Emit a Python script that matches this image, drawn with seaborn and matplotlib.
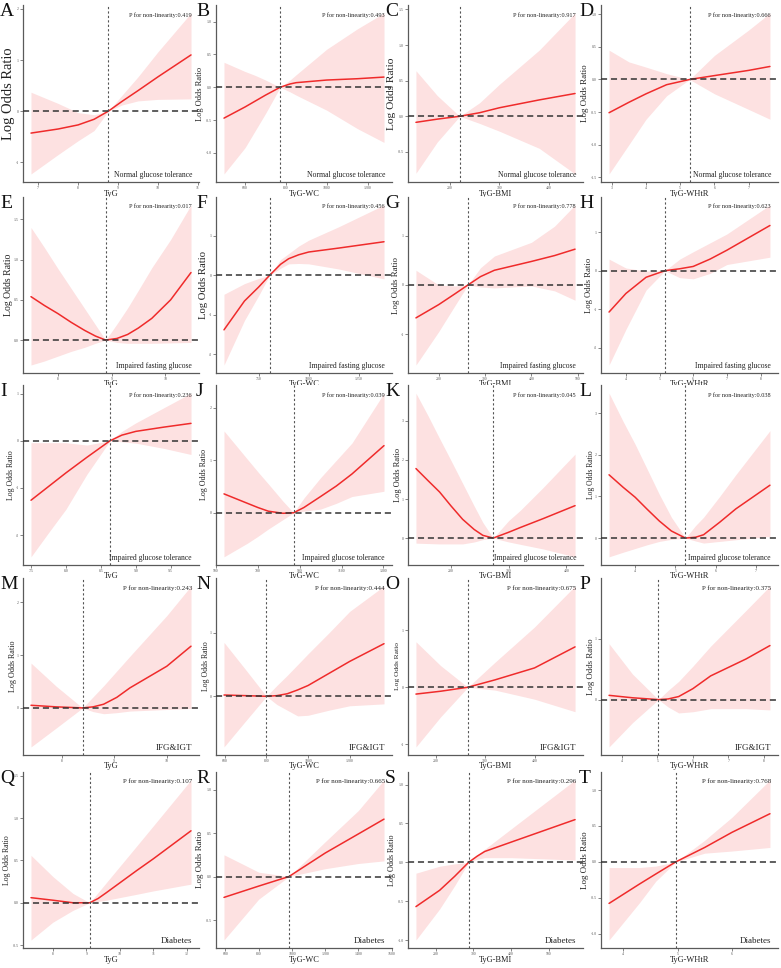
import matplotlib
matplotlib.use("Agg")
import matplotlib.pyplot as plt
import seaborn as sns

# -----------------------------------------
# Panel text
# -----------------------------------------

letters = list("ABCDEFGHIJKLMNOPQRST")
xlabels = ["TyG", "TyG-WC", "TyG-BMI", "TyG-WHtR"]
groups = ["Normal glucose tolerance", "Impaired fasting glucose",
          "Impaired glucose tolerance", "IFG&IGT", "Diabetes"]
p_values = ["0.419", "0.493", "0.917", "0.666",
            "0.017", "0.456", "0.778", "0.623",
            "0.236", "0.039", "0.045", "0.038",
            "0.243", "0.444", "0.675", "0.375",
            "0.107", "0.665", "0.296", "0.768"]

# reference value (vertical dotted line)
refs = [8.76, 772, 220, 5.27,
        8.89, 805, 263, 5.16,
        8.63, 871, 273, 5.25,
        8.4, 800, 265, 5.03,
        9.1, 982, 287, 4.97]

# -----------------------------------------
# Spline curves
# -----------------------------------------

# Row 1 - Normal glucose tolerance
a_x = [6.82, 7.5, 8.0, 8.4, 8.76, 9.1, 9.5, 10.0, 10.83]
a_y = [-0.43, -0.35, -0.27, -0.16, 0.0, 0.19, 0.40, 0.67, 1.10]
a_lo = [-1.23, -0.85, -0.58, -0.38, 0.0, 0.12, 0.20, 0.23, 0.24]
a_hi = [0.37, 0.15, -0.03, -0.07, 0.0, 0.31, 0.67, 1.16, 1.92]

b_x = [497, 600, 650, 700, 772, 820, 850, 1000, 1150, 1280]
b_y = [-0.47, -0.30, -0.21, -0.12, 0.0, 0.05, 0.07, 0.11, 0.13, 0.155]
b_lo = [-1.32, -0.92, -0.66, -0.40, 0.0, -0.07, -0.12, -0.35, -0.63, -0.84]
b_hi = [0.38, 0.24, 0.18, 0.11, 0.0, 0.11, 0.19, 0.58, 0.89, 1.13]

c_x = [132, 175, 220, 260, 300, 380, 452]
c_y = [-0.085, -0.04, 0.0, 0.05, 0.12, 0.23, 0.32]
c_lo = [-0.80, -0.36, 0.0, -0.10, -0.21, -0.45, -0.81]
c_hi = [0.64, 0.29, 0.0, 0.19, 0.45, 0.93, 1.45]

d_x = [2.92, 3.5, 4.0, 4.6, 5.27, 6.0, 7.0, 7.62]
d_y = [-0.51, -0.35, -0.22, -0.08, 0.0, 0.06, 0.14, 0.20]
d_lo = [-1.45, -1.0, -0.61, -0.25, 0.0, -0.22, -0.46, -0.61]
d_hi = [0.45, 0.27, 0.19, 0.09, 0.0, 0.37, 0.76, 1.02]

# Row 2 - Impaired fasting glucose
e_x = [7.5, 7.75, 8.0, 8.25, 8.5, 8.7, 8.89, 9.1, 9.3, 9.5, 9.75, 10.1, 10.48]
e_y = [0.54, 0.43, 0.33, 0.22, 0.12, 0.05, 0.0, 0.02, 0.07, 0.15, 0.27, 0.50, 0.84]
e_lo = [-0.31, -0.26, -0.20, -0.14, -0.09, -0.04, 0.0, -0.03, -0.04, -0.04,
        -0.04, -0.035, -0.03]
e_hi = [1.40, 1.15, 0.89, 0.64, 0.39, 0.19, 0.0, 0.20, 0.40, 0.62, 0.90, 1.25, 1.68]

f_x = [578, 680, 750, 805, 860, 900, 950, 1000, 1150, 1375]
f_y = [-1.38, -0.65, -0.30, 0.0, 0.28, 0.42, 0.52, 0.59, 0.69, 0.85]
f_lo = [-2.27, -1.14, -0.52, 0.0, 0.18, 0.29, 0.30, 0.29, 0.16, -0.09]
f_hi = [-0.48, -0.21, -0.08, 0.0, 0.40, 0.55, 0.74, 0.89, 1.23, 1.78]

g_x = [151, 200, 235, 263, 290, 320, 400, 450, 494]
g_y = [-0.67, -0.40, -0.18, 0.0, 0.17, 0.30, 0.48, 0.60, 0.73]
g_lo = [-1.63, -0.95, -0.42, 0.0, -0.04, -0.06, -0.02, -0.12, -0.31]
g_hi = [0.30, 0.0, -0.02, 0.0, 0.35, 0.59, 0.87, 1.20, 1.63]

h_x = [3.5, 4.0, 4.6, 5.16, 5.6, 6.0, 6.5, 7.0, 8.28]
h_y = [-1.07, -0.59, -0.17, 0.0, 0.05, 0.11, 0.30, 0.53, 1.17]
h_lo = [-2.44, -1.52, -0.50, 0.0, -0.18, -0.21, -0.07, 0.16, 0.35]
h_hi = [0.30, 0.07, -0.01, 0.0, 0.30, 0.49, 0.72, 0.95, 1.70]

# Row 3 - Impaired glucose tolerance
i_x = [7.5, 7.75, 8.0, 8.3, 8.63, 8.8, 9.0, 9.4, 9.79]
i_y = [-1.26, -0.97, -0.68, -0.35, 0.0, 0.12, 0.20, 0.29, 0.37]
i_lo = [-2.46, -1.95, -1.45, -0.71, 0.0, -0.02, -0.05, -0.16, -0.29]
i_hi = [-0.04, -0.04, -0.04, -0.09, 0.0, 0.20, 0.38, 0.70, 1.01]

j_x = [538, 650, 700, 750, 820, 871, 920, 1000, 1075, 1150, 1303]
j_y = [0.36, 0.18, 0.10, 0.03, -0.01, 0.0, 0.10, 0.31, 0.51, 0.74, 1.28]
j_lo = [-0.84, -0.58, -0.45, -0.31, -0.13, 0.0, 0.03, 0.07, 0.18, 0.31, 0.41]
j_hi = [1.56, 1.02, 0.78, 0.55, 0.22, 0.0, 0.28, 0.67, 1.0, 1.33, 2.28]

k_x = [139, 160, 180, 200, 220, 240, 255, 273, 300, 320, 360, 415]
k_y = [1.78, 1.47, 1.18, 0.82, 0.48, 0.22, 0.07, 0.0, 0.15, 0.27, 0.50, 0.83]
k_lo = [-0.13, -0.14, -0.15, -0.15, -0.15, -0.10, -0.04, 0.0, -0.10, -0.16,
        -0.28, -0.48]
k_hi = [3.71, 3.13, 2.55, 1.98, 1.40, 0.82, 0.40, 0.0, 0.45, 0.71, 1.30, 2.15]

l_x = [3.35, 3.7, 4.0, 4.3, 4.6, 4.9, 5.25, 5.5, 5.7, 6.1, 6.5, 7.35]
l_y = [1.52, 1.22, 0.98, 0.69, 0.41, 0.17, 0.0, 0.02, 0.08, 0.38, 0.70, 1.27]
l_lo = [-0.45, -0.34, -0.25, -0.16, -0.08, -0.03, 0.0, -0.07, -0.12, -0.08,
        -0.04, 0.04]
l_hi = [3.48, 2.80, 2.25, 1.65, 1.05, 0.50, 0.0, 0.30, 0.50, 1.00, 1.52, 2.58]

# Row 4 - IFG&IGT
m_x = [7.42, 7.9, 8.4, 8.6, 8.8, 9.05, 9.3, 10.0, 10.46]
m_y = [0.05, 0.02, 0.0, 0.02, 0.07, 0.20, 0.38, 0.79, 1.17]
m_lo = [-0.74, -0.38, 0.0, -0.07, -0.11, -0.09, -0.06, -0.03, -0.01]
m_hi = [0.85, 0.41, 0.0, 0.21, 0.42, 0.70, 0.98, 1.75, 2.31]

n_x = [596, 700, 800, 850, 900, 950, 1000, 1100, 1200, 1365]
n_y = [0.02, 0.01, 0.0, 0.01, 0.04, 0.10, 0.17, 0.36, 0.55, 0.83]
n_lo = [-0.80, -0.39, 0.0, -0.13, -0.22, -0.31, -0.30, -0.22, -0.15, -0.12]
n_hi = [0.85, 0.42, 0.0, 0.17, 0.33, 0.50, 0.67, 1.0, 1.34, 1.74]

o_x = [160, 210, 265, 320, 400, 482]
o_y = [-0.12, -0.07, 0.0, 0.13, 0.34, 0.71]
o_lo = [-1.05, -0.52, 0.0, -0.05, -0.21, -0.43]
o_hi = [0.80, 0.38, 0.0, 0.44, 1.06, 1.78]

p_x = [3.64, 4.3, 5.03, 5.3, 5.6, 6.0, 6.5, 7.5, 8.17]
p_y = [0.07, 0.03, 0.0, 0.01, 0.05, 0.18, 0.39, 0.67, 0.89]
p_lo = [-0.78, -0.38, 0.0, -0.12, -0.22, -0.20, -0.15, -0.15, -0.17]
p_hi = [0.92, 0.42, 0.0, 0.15, 0.30, 0.55, 0.88, 1.47, 1.87]

# Row 5 - Diabetes
q_x = [7.35, 8.0, 8.6, 9.1, 9.35, 9.6, 10.5, 11.0, 12.12]
q_y = [0.06, 0.03, 0.0, 0.0, 0.05, 0.12, 0.38, 0.52, 0.85]
q_lo = [-0.44, -0.23, -0.09, 0.0, 0.015, 0.03, 0.10, 0.14, 0.22]
q_hi = [0.56, 0.31, 0.11, 0.0, 0.12, 0.24, 0.67, 0.91, 1.45]

r_x = [591, 800, 982, 1200, 1400, 1554]
r_y = [-0.24, -0.11, 0.0, 0.27, 0.49, 0.66]
r_lo = [-0.73, -0.26, 0.0, 0.09, 0.15, 0.18]
r_hi = [0.25, 0.05, 0.0, 0.40, 0.76, 1.11]

s_x = [147, 210, 250, 287, 310, 330, 400, 570]
s_y = [-0.57, -0.36, -0.18, 0.0, 0.08, 0.14, 0.26, 0.55]
s_lo = [-1.0, -0.60, -0.30, 0.0, 0.04, 0.06, 0.06, 0.03]
s_hi = [-0.14, -0.05, -0.02, 0.0, 0.10, 0.17, 0.43, 1.06]

t_x = [3.74, 4.3, 4.6, 4.97, 5.5, 6.0, 6.7]
t_y = [-0.58, -0.31, -0.17, 0.0, 0.20, 0.41, 0.67]
t_lo = [-1.09, -0.57, -0.27, 0.0, 0.12, 0.15, 0.20]
t_hi = [-0.08, -0.08, -0.06, 0.0, 0.30, 0.62, 1.14]

curves = [
    (a_x, a_y, a_lo, a_hi), (b_x, b_y, b_lo, b_hi),
    (c_x, c_y, c_lo, c_hi), (d_x, d_y, d_lo, d_hi),
    (e_x, e_y, e_lo, e_hi), (f_x, f_y, f_lo, f_hi),
    (g_x, g_y, g_lo, g_hi), (h_x, h_y, h_lo, h_hi),
    (i_x, i_y, i_lo, i_hi), (j_x, j_y, j_lo, j_hi),
    (k_x, k_y, k_lo, k_hi), (l_x, l_y, l_lo, l_hi),
    (m_x, m_y, m_lo, m_hi), (n_x, n_y, n_lo, n_hi),
    (o_x, o_y, o_lo, o_hi), (p_x, p_y, p_lo, p_hi),
    (q_x, q_y, q_lo, q_hi), (r_x, r_y, r_lo, r_hi),
    (s_x, s_y, s_lo, s_hi), (t_x, t_y, t_lo, t_hi),
]

# -----------------------------------------
# Tick values
# -----------------------------------------

x_ticks = [
    [7, 8, 9, 10, 11], [600, 800, 1000, 1200], [200, 300, 400], [3, 4, 5, 6, 7],
    [8, 9, 10], [750, 1000, 1250], [200, 300, 400, 500], [4, 5, 6, 7, 8],
    [7.5, 8.0, 8.5, 9.0, 9.5], [500, 700, 900, 1100, 1300], [200, 300, 400], [4, 5, 6, 7],
    [8, 9, 10], [600, 800, 1000, 1200], [200, 300, 400], [4, 5, 6, 7, 8],
    [8, 9, 10, 11, 12], [600, 800, 1000, 1200, 1400, 1600], [200, 300, 400, 500], [4, 5, 6],
]
y_ticks = [
    [-1, 0, 1, 2], [-1.0, -0.5, 0.0, 0.5, 1.0], [-0.5, 0.0, 0.5, 1.0, 1.5],
    [-1.5, -1.0, -0.5, 0.0, 0.5, 1.0],
    [0.0, 0.5, 1.0, 1.5], [-2, -1, 0, 1, 2], [-1, 0, 1], [-2, -1, 0, 1, 2],
    [-2, -1, 0, 1], [-1, 0, 1, 2], [0, 1, 2, 3], [0, 1, 2, 3],
    [0, 1, 2], [0, 1], [-1, 0, 1], [0, 1],
    [-0.5, 0.0, 0.5, 1.0, 1.5], [-0.5, 0.0, 0.5, 1.0],
    [-1.0, -0.5, 0.0, 0.5, 1.0], [-1.0, -0.5, 0.0, 0.5, 1.0],
]

# -----------------------------------------
# Style / layout
# -----------------------------------------

sns.set_theme(style="white")
plt.rcParams['font.family'] = ['Liberation Serif', 'DejaVu Serif']
plt.rcParams['axes.unicode_minus'] = False

line_color = "#ef2b2b"
band_color = "#fde1e1"
spine_color = "#5a5a5a"

ylab_sizes = [10.5, 6.0, 8.2, 6.5, 7.0, 7.7, 6.4, 6.2, 5.6, 5.8,
              6.0, 5.5, 5.9, 5.6, 5.4, 6.3, 5.6, 6.4, 5.9, 6.5]

W, H = 781, 968
col_left = [23, 216, 408, 601]
col_right = [199, 392, 583, 778]
row_top = [5, 197, 385, 578, 772]
row_bottom = [182, 373, 565, 755, 948]
letter_x = [0, 196, 385, 579]

tick_size = 2.8
char_px = 0.5 * tick_size * 100 / 72


def fmt_ticks(vals):
    if all(float(v).is_integer() for v in vals):
        return ["%d" % v for v in vals]
    return ["%.1f" % v for v in vals]


fig = plt.figure(figsize=(W / 100, H / 100), dpi=100)

for i in range(20):
    r, c = divmod(i, 4)
    x0, x1 = col_left[c], col_right[c]
    y0, y1 = row_top[r], row_bottom[r]
    aw, ah = x1 - x0, y1 - y0
    ax = fig.add_axes([x0 / W, 1 - y1 / H, aw / W, ah / H])

    xs, ys, lo, hi = curves[i]

    ax.fill_between(xs, lo, hi, color=band_color, lw=0, zorder=1)
    sns.lineplot(x=xs, y=ys, ax=ax, color=line_color, linewidth=1.1, zorder=3)

    ax.margins(x=0.05, y=0.05)
    ax.autoscale_view()
    xl = ax.get_xlim()
    yl = ax.get_ylim()

    ax.axhline(0, color="#333333", lw=1.1, ls=(0, (4, 2.5)), zorder=4)
    ax.axvline(refs[i], color="#555555", lw=0.8, ls=(0, (2, 2)), zorder=4)

    ylabels_txt = fmt_ticks(y_ticks[i])
    ax.set_xticks(x_ticks[i])
    ax.set_xticklabels(fmt_ticks(x_ticks[i]))
    ax.set_yticks(y_ticks[i])
    ax.set_yticklabels(ylabels_txt)
    ax.set_xlim(xl)
    ax.set_ylim(yl)

    ax.tick_params(axis="both", length=2, width=0.5, pad=1,
                   labelsize=tick_size, colors="#555555", left=True, bottom=True)

    for side in ["top", "right"]:
        ax.spines[side].set_visible(False)
    for side in ["left", "bottom"]:
        ax.spines[side].set_color(spine_color)
        ax.spines[side].set_linewidth(0.9)

    # axis titles, placed just outside the tick labels
    ax.set_xlabel(xlabels[c], fontsize=6, color="#222222")
    ax.xaxis.set_label_coords(0.5, -7.5 / ah)
    ax.xaxis.label.set_va("top")

    nchar = max(len(s) for s in ylabels_txt)
    gap = 2 + 1 + nchar * char_px + 1.5
    ax.set_ylabel("Log Odds Ratio", fontsize=ylab_sizes[i], color="#222222")
    ax.yaxis.set_label_coords(-gap / aw, 0.5)

    p_size = 4.5 if r < 3 else 5.0
    g_size = 5.5 if r < 3 else 6.5
    ax.text(0.96, 0.945, "P for non-linearity:" + p_values[i],
            transform=ax.transAxes, ha="right", va="center",
            fontsize=p_size, color="#222222", zorder=5)
    ax.text(0.96, 0.015, groups[r], transform=ax.transAxes,
            ha="right", va="bottom", fontsize=g_size, color="#222222",
            zorder=5)

    fig.text(letter_x[c] / W, 1 - (y0 - 2) / H, letters[i],
             ha="left", va="top", fontsize=14, color="#111111")

fig.savefig("out.png", dpi=100)
